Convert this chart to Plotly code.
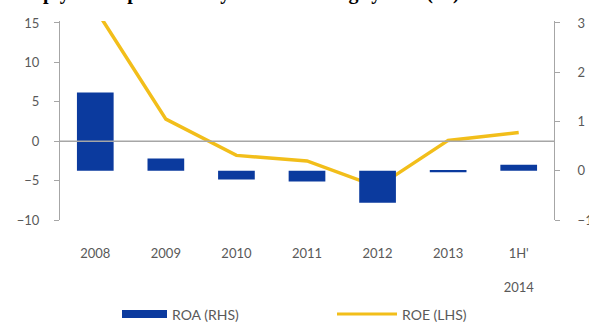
import plotly.graph_objects as go

# Periods and series (ROA on the right-hand axis, ROE on the left-hand axis)
periods = ["2008", "2009", "2010", "2011", "2012", "2013", "1H'<br><br>2014"]
roa_rhs = [1.59, 0.25, -0.18, -0.22, -0.65, -0.03, 0.12]
roe_lhs = [16.8, 2.8, -1.8, -2.5, -5.8, 0.1, 1.1]
left_ticks = [-10, -5, 0, 5, 10, 15]
right_ticks = [-1, 0, 1, 2, 3]

BLUE = "#0B3A9E"
GOLD = "#F2BE1A"
AXIS = "#A6A6A6"
LABEL = "#595959"
FONT = "Lato, Open Sans, sans-serif"

W, H = 589, 324
L, R, T, B = 60, 35, 21, 104
pw, ph = W - L - R, H - T - B


def px_x(p):
    return (p - L) / pw


def px_y(p):
    return (H - B - p) / ph


fig = go.Figure()

fig.add_trace(go.Bar(
    x=periods, y=roa_rhs, yaxis="y2", name="ROA (RHS)",
    marker=dict(color=BLUE, line=dict(width=0)), width=0.52,
    showlegend=False,
))
fig.add_trace(go.Scatter(
    x=periods, y=roe_lhs, yaxis="y", name="ROE (LHS)", mode="lines",
    line=dict(color=GOLD, width=3.5), showlegend=False,
))

axis_common = dict(
    showline=True, linecolor=AXIS, linewidth=1, ticks="outside", ticklen=5,
    tickcolor=AXIS, tickwidth=1, showgrid=False, zeroline=False,
    automargin=False,
    tickfont=dict(family=FONT, size=13, color=LABEL),
)

fig.update_layout(
    width=W, height=H,
    margin=dict(l=L, r=R, t=T, b=B, pad=0, autoexpand=False),
    paper_bgcolor="white", plot_bgcolor="white",
    showlegend=False,
    xaxis=dict(showline=False, showgrid=False, zeroline=False, ticks="",
               automargin=False,
               tickfont=dict(family=FONT, size=13, color=LABEL),
               ticklabelstandoff=24),
    yaxis=dict(range=[-10, 15.25], tickvals=left_ticks,
               ticklabelstandoff=12, **axis_common),
    yaxis2=dict(range=[-1, 3.04], tickvals=right_ticks, overlaying="y",
                side="right", ticklabelstandoff=15, **axis_common),
)

# Horizontal reference line at zero on the left-hand scale
fig.add_shape(type="line", xref="paper", yref="y", x0=0, x1=1, y0=0, y1=0,
              line=dict(color=AXIS, width=1.5), layer="above")

# Hand-drawn legend below the chart
ly = px_y(314)
fig.add_shape(type="rect", xref="paper", yref="paper",
              x0=px_x(122), x1=px_x(167), y0=px_y(318), y1=px_y(310),
              fillcolor=BLUE, line=dict(width=0))
fig.add_annotation(xref="paper", yref="paper", x=px_x(170), y=ly,
                   text="ROA (RHS)", showarrow=False, xanchor="left",
                   yanchor="middle", font=dict(family=FONT, size=14, color=LABEL))
fig.add_shape(type="line", xref="paper", yref="paper",
              x0=px_x(337), x1=px_x(397), y0=ly, y1=ly,
              line=dict(color=GOLD, width=3))
fig.add_annotation(xref="paper", yref="paper", x=px_x(400), y=ly,
                   text="ROE (LHS)", showarrow=False, xanchor="left",
                   yanchor="middle", font=dict(family=FONT, size=14, color=LABEL))

# Heading, running off the top edge of the page
fig.add_annotation(xref="paper", yref="paper", x=px_x(0), y=px_y(6),
                   text="<b>Sharply lower profitability of the banking system (%)</b>",
                   showarrow=False, xanchor="left", yanchor="bottom",
                   font=dict(family="Liberation Serif, serif", size=20, color="black"))

fig.write_html("out.html")
